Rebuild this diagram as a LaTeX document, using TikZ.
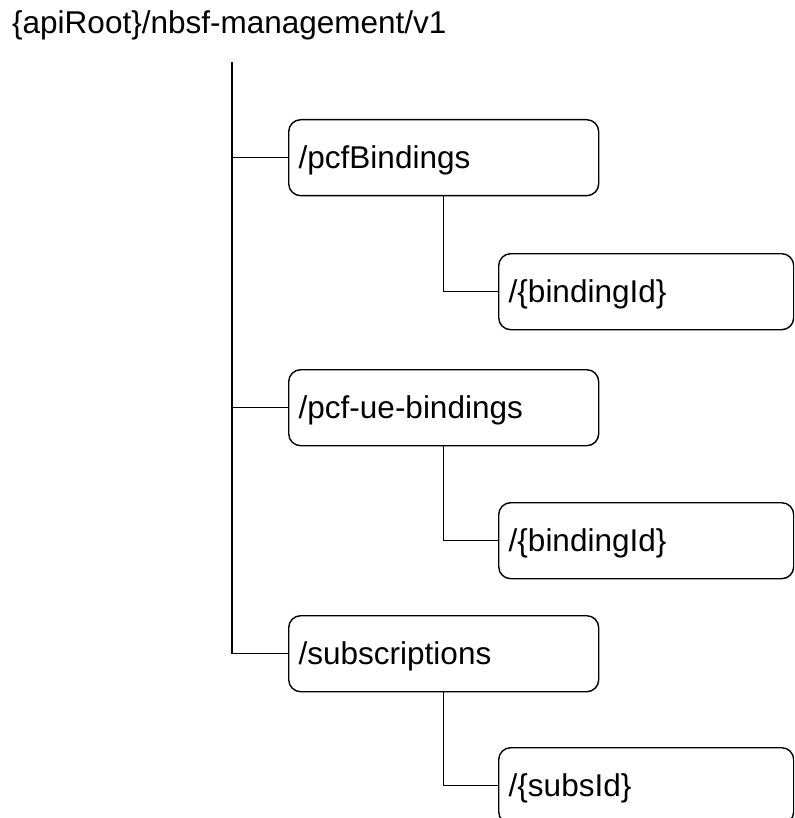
\documentclass[tikz,border=0pt]{standalone}
\usepackage{fontspec}
\setmainfont{Liberation Sans}

\tikzset{
  resbox/.style = {draw, rounded corners=12pt, line width=1.4pt, anchor=north west,
                   inner xsep=10pt, inner ysep=0pt, align=left,
                   text height=24pt, text depth=2pt, minimum height=76pt},
  toplevel/.style = {resbox, text width=290pt},
  sublevel/.style = {resbox, text width=275pt},
  branch/.style   = {line width=1.4pt}
}

\begin{document}
\begin{tikzpicture}[x=1pt,y=-1pt,font=\fontsize{31.5}{38}\selectfont]

\clip (0,0) rectangle (794,818);

\node[anchor=base west, inner sep=0pt] (root) at (12,34) {\{apiRoot\}/nbsf-management/v1};
\coordinate (trunk) at (232,62);

\node[toplevel] (pcfBindings)   at (288,119) {/pcfBindings};
\node[sublevel] (bindingId)     at (498,253) {/\{bindingId\}};
\node[toplevel] (pcfUeBindings) at (288,369) {/pcf-ue-bindings};
\node[sublevel] (ueBindingId)   at (498,502) {/\{bindingId\}};
\node[toplevel] (subscriptions) at (288,615) {/subscriptions};
\node[sublevel] (subsId)        at (498,747) {/\{subsId\}};

% trunk
\draw[branch] (trunk) -- (trunk |- subscriptions.west) -- (subscriptions.west);
\draw[branch] (trunk |- pcfBindings.west) -- (pcfBindings.west);
\draw[branch] (trunk |- pcfUeBindings.west) -- (pcfUeBindings.west);

% children
\draw[branch] (pcfBindings.south) |- (bindingId.west);
\draw[branch] (pcfUeBindings.south) |- (ueBindingId.west);
\draw[branch] (subscriptions.south) |- (subsId.west);

\end{tikzpicture}
\end{document}
